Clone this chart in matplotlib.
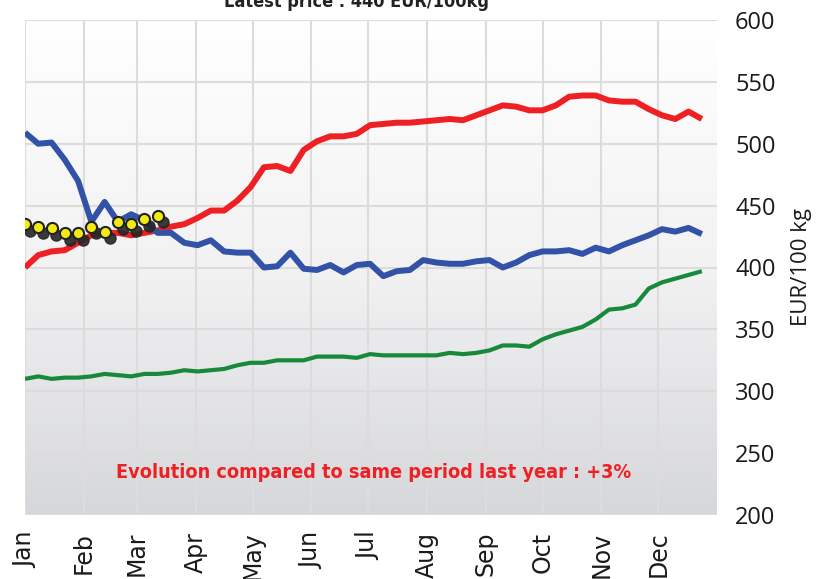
import numpy as np
import matplotlib
matplotlib.use("Agg")
import matplotlib.pyplot as plt
from matplotlib.colors import LinearSegmentedColormap

months = ["Jan", "Feb", "Mar", "Apr", "May", "Jun", "Jul", "Aug", "Sep", "Oct", "Nov", "Dec"]
month_start_days = [0, 31, 59, 90, 120, 151, 181, 212, 243, 273, 304, 334]

blue = [509, 500, 501, 487, 470, 437, 453, 437, 443, 438, 428, 428, 420, 418, 422, 413,
        412, 412, 400, 401, 412, 399, 398, 402, 396, 402, 403, 393, 397, 398, 406, 404,
        403, 403, 405, 406, 400, 404, 410, 413, 413, 414, 411, 416, 413, 418, 422, 426,
        431, 429, 432, 427]
red = [400, 410, 413, 414, 420, 426, 428, 428, 426, 428, 430, 433, 435, 440, 446, 446,
       454, 465, 481, 482, 478, 495, 502, 506, 506, 508, 515, 516, 517, 517, 518, 519,
       520, 519, 523, 527, 531, 530, 527, 527, 531, 538, 539, 539, 535, 534, 534, 528,
       523, 520, 526, 520]
green = [310, 312, 310, 311, 311, 312, 314, 313, 312, 314, 314, 315, 317, 316, 317, 318,
         321, 323, 323, 325, 325, 325, 328, 328, 328, 327, 330, 329, 329, 329, 329, 329,
         331, 330, 331, 333, 337, 337, 336, 342, 346, 349, 352, 358, 366, 367, 370, 383,
         388, 391, 394, 397]
yellow = [435, 433, 432, 428, 428, 433, 429, 437, 435, 439, 442]

yticks = [200, 250, 300, 350, 400, 450, 500, 550, 600]

fig = plt.figure(figsize=(8.35, 5.79), dpi=100)
ax = fig.add_axes([25/835, 1-515/579, (717-25)/835, (515-20)/579])

xmax = 365
ax.set_xlim(0, xmax)
ax.set_ylim(200, 600)

# gradient background
cmap = LinearSegmentedColormap.from_list("bg", ["#d6d7da", "#f2f2f3", "#ffffff"], N=256)
grad = np.linspace(0, 1, 256).reshape(-1, 1)
ax.imshow(grad, aspect="auto", cmap=cmap, origin="lower",
          extent=[0, xmax, 200, 600], zorder=0)

for d in month_start_days:
    ax.axvline(d, color="#dcdcdc", lw=1.5, zorder=1)
for v in yticks:
    ax.axhline(v, color="#dcdcdc", lw=1.5, zorder=1)

x = np.arange(len(blue)) * 7
ax.plot(x, green, color="#17893a", lw=3.0, zorder=3, solid_capstyle="butt")
ax.plot(x, red, color="#ee2024", lw=4.3, zorder=4, solid_capstyle="butt")
ax.plot(x, blue, color="#3152a6", lw=4.3, zorder=5, solid_capstyle="butt")

xy = np.arange(len(yellow)) * 7
ax.plot(xy + 2.6, np.array(yellow) - 5.5, "o", ms=8, color="#262626", alpha=0.9, zorder=6)
ax.plot(xy, yellow, "o", ms=8, markerfacecolor="#f3ea14", markeredgecolor="#222222",
        markeredgewidth=1.5, zorder=7)

for s in ax.spines.values():
    s.set_visible(False)

ax.set_xticks(month_start_days)
ax.set_xticklabels(months, rotation=90, fontsize=17, family="DejaVu Sans",
                   va="top", ha="center", color="#1a1a1a")
ax.tick_params(axis="x", length=0, pad=12)

ax.yaxis.tick_right()
ax.set_yticks(yticks)
ax.set_yticklabels([str(v) for v in yticks], fontsize=17, family="Open Sans",
                   color="#1a1a1a")
ax.tick_params(axis="y", length=0, pad=13)
ax.yaxis.set_label_position("right")
ax.set_ylabel("EUR/100 kg", fontsize=16, family="Open Sans", labelpad=11, color="#1a1a1a")

ax.text(0.504, 0.085, "Evolution compared to same period last year : +3%",
        transform=ax.transAxes, ha="center", va="center", color="#ee2024",
        fontsize=14.2, fontweight="bold", family="DejaVu Sans", fontstretch="condensed",
        zorder=8)

fig.text(357/835, 1-7/579, "Latest price : 440 EUR/100kg", ha="center", va="baseline",
         fontsize=13, fontweight="bold", family="DejaVu Sans", fontstretch="condensed",
         color="#222222")

fig.savefig("out.png", dpi=100)
